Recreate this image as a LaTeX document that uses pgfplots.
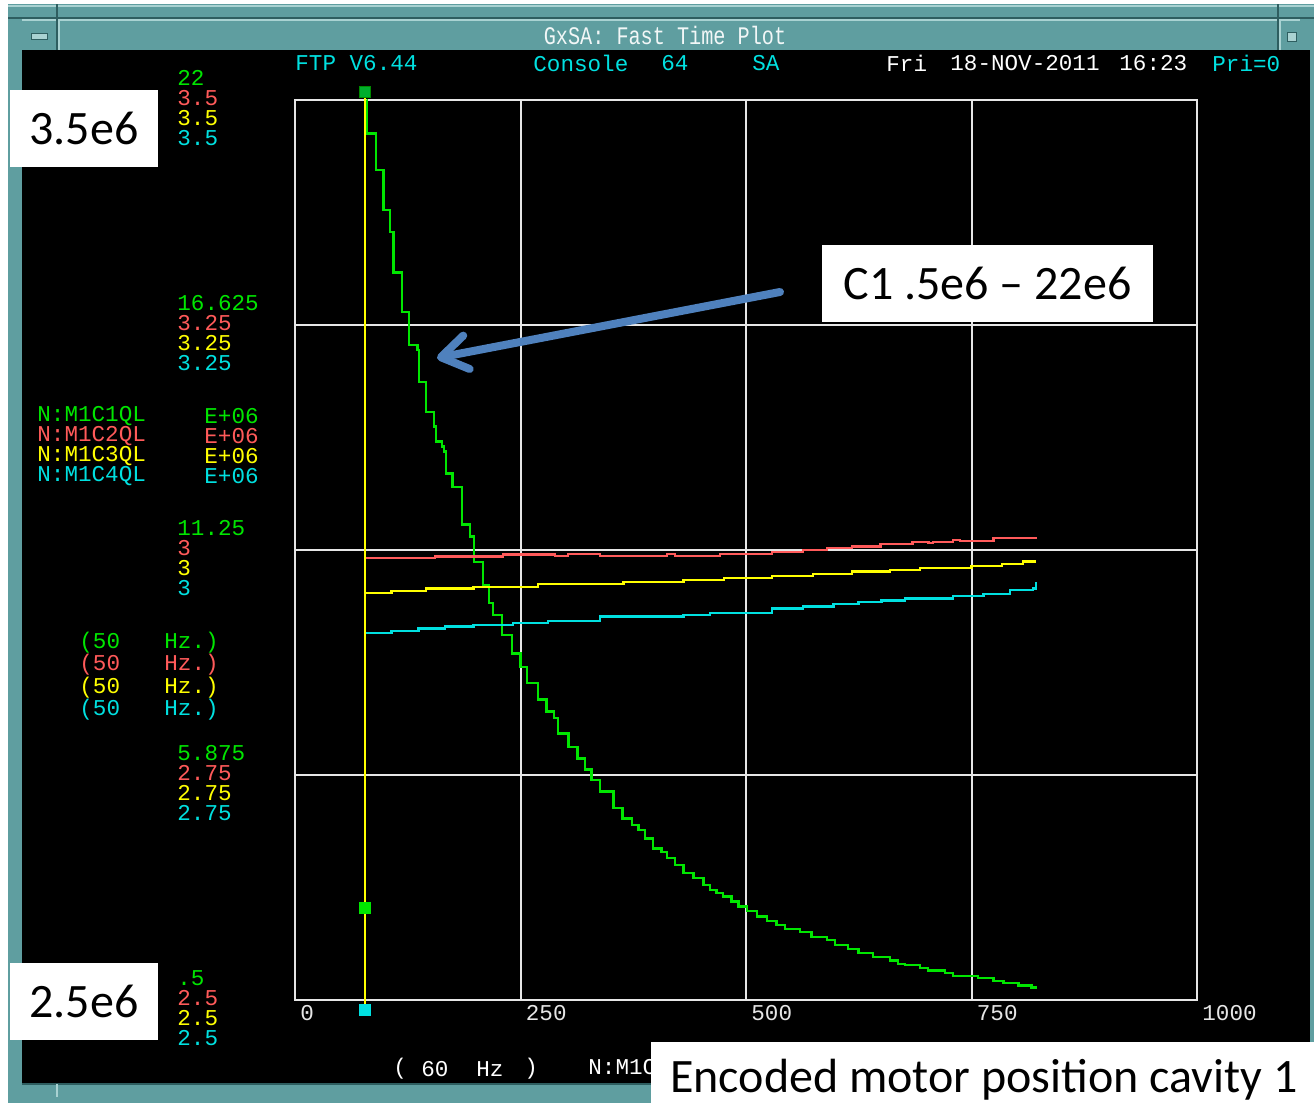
\documentclass[border=0pt]{standalone}
\usepackage{pgfplots}
\pgfplotsset{compat=1.18}
\usepackage{fontspec}
\setmainfont{Carlito}
\newfontfamily\mono{Liberation Mono}
\usetikzlibrary{arrows.meta}
\definecolor{frame}{HTML}{5F9EA0}
\definecolor{frameL}{HTML}{A9D2D2}
\definecolor{frameD}{HTML}{2E5E60}
\definecolor{cG}{HTML}{00E600}
\definecolor{cR}{HTML}{FF5A5A}
\definecolor{cY}{HTML}{FFFF00}
\definecolor{cC}{HTML}{00E0E0}
\definecolor{gridc}{HTML}{E6E6E6}
\definecolor{arrowc}{HTML}{4F81BD}
\newcommand\tfont{\mono\fontsize{11.3}{10}\selectfont}
\newcommand\bfont{\fontsize{24}{28}\selectfont}
\begin{document}
\begin{tikzpicture}[x=0.5pt,y=0.5pt]
\useasboundingbox (0,0) rectangle (1314,1103);
% window frame
\fill[white] (0,0) rectangle (1314,1103);
\fill[frame] (8,0) rectangle (1314,1099);
\draw[frameL, line width=1pt] (8,1097) -- (1314,1097);
\draw[frameD, line width=1pt] (8,1085) -- (1314,1085);
\draw[frameL, line width=1pt] (22,1083) -- (1300,1083);
\draw[frameD, line width=1pt] (57,1053) -- (57,1099);
\draw[frameD, line width=1pt] (1278,1053) -- (1278,1099);
\draw[frameL, line width=1pt] (59,1053) -- (59,1084);
\draw[frameL, line width=1pt] (1280,1053) -- (1280,1084);
\fill[frameL] (31,1064) rectangle (47,1070);
\draw[frameD] (31,1064) rectangle (47,1070);
\fill[frameL] (1287,1062) rectangle (1296,1071);
\draw[frameD] (1287,1062) rectangle (1296,1071);
\fill[black] (22,20) rectangle (1310,1053);
\draw[frameD, line width=1pt] (22,19) -- (1312,19);
\draw[frameL, line width=1pt] (57,6) -- (57,19);
\node[text=white!92!frame, font={\mono\fontsize{10.1}{12}\selectfont}] at (665,1068) {\scalebox{1}[1.25]{GxSA: Fast Time Plot}};
% header
\begin{scope}[every node/.style={anchor=west, inner sep=0pt, font=\tfont}]
\node[text=cC] at (295,1040) {FTP V6.44};
\node[text=cC] at (533,1040) {Console};
\node[text=cC] at (661,1040) {64};
\node[text=cC] at (752,1040) {SA};
\node[text=white] at (886,1040) {Fri};
\node[text=white] at (950,1040) {18-NOV-2011};
\node[text=white] at (1119,1040) {16:23};
\node[text=cC] at (1212,1040) {Pri=0};
% legend
\node[text=cG] at (37,687) {N:M1C1QL};
\node[text=cR] at (37,667) {N:M1C2QL};
\node[text=cY] at (37,647) {N:M1C3QL};
\node[text=cC] at (37,627) {N:M1C4QL};
\node[text=cG] at (204,687) {E+06};
\node[text=cR] at (204,667) {E+06};
\node[text=cY] at (204,647) {E+06};
\node[text=cC] at (204,627) {E+06};
\node[text=cG] at (79,460) {(50};
\node[text=cR] at (79,438) {(50};
\node[text=cY] at (79,415) {(50};
\node[text=cC] at (79,393) {(50};
\node[text=cG] at (164,460) {Hz.)};
\node[text=cR] at (164,438) {Hz.)};
\node[text=cY] at (164,415) {Hz.)};
\node[text=cC] at (164,393) {Hz.)};
\node[text=white] at (393,34) {(};
\node[text=white] at (421,34) {60};
\node[text=white] at (476,34) {Hz};
\node[text=white] at (524,34) {)};
\node[text=white] at (588,34) {N:M1C1QL};
\end{scope}
% green axis
\begin{axis}[at={(147.5pt,51.5pt)}, anchor=south west, scale only axis,
  width=451pt, height=450pt, xmin=0, xmax=1000, ymin=0.5, ymax=22,
  clip=false,
  axis line style={draw=gridc, line width=1pt},
  grid=major, major grid style={draw=gridc, line width=1pt},
  xtick={0,250,500,750,1000}, ytick={0.5,5.875,11.25,16.625,22},
  major tick length=0pt,
  /pgf/number format/assume math mode=true,
  /pgf/number format/1000 sep={},
  xticklabel style={anchor=west, inner sep=0pt, xshift=2.5pt, yshift=-6.5pt, font=\tfont, text=gridc},
  yticklabels={
    {\textcolor{cG}{.5}\\\textcolor{cR}{2.5}\\\textcolor{cY}{2.5}\\\textcolor{cC}{2.5}},
    {\textcolor{cG}{5.875}\\\textcolor{cR}{2.75}\\\textcolor{cY}{2.75}\\\textcolor{cC}{2.75}},
    {\textcolor{cG}{11.25}\\\textcolor{cR}{3}\\\textcolor{cY}{3}\\\textcolor{cC}{3}},
    {\textcolor{cG}{16.625}\\\textcolor{cR}{3.25}\\\textcolor{cY}{3.25}\\\textcolor{cC}{3.25}},
    {\textcolor{cG}{22}\\\textcolor{cR}{3.5}\\\textcolor{cY}{3.5}\\\textcolor{cC}{3.5}}},
  yticklabel style={anchor=north west, align=left, inner sep=0pt, font=\tfont, xshift=-59pt, yshift=15pt},
]
\addplot[cG, line width=1.2pt, const plot] coordinates {
(79.5,22.0) (79.8,21.20) (89.5,20.33) (97.9,19.37) (105.3,18.85) (109.0,17.88) (118.3,16.93) (126.7,16.15) (136.0,16.03) (137.8,15.27) (144.9,14.55) (154.1,14.20) (156.0,13.84) (163.3,13.72) (165.2,13.60) (167.1,13.08) (174.4,12.76) (185.1,11.86) (194.0,11.57) (198.4,10.97) (208.1,10.41) (215.4,9.99) (219.2,9.70) (229.2,9.22) (240.9,8.78) (250.2,8.46) (256.9,8.07) (269.7,7.68) (279.0,7.39) (287.1,7.23) (291.9,6.87) (303.0,6.55) (313.0,6.27) (321.5,6.01) (328.9,5.76) (338.1,5.48) (352.9,5.08) (363.3,4.84) (373.3,4.68) (380.6,4.56) (388.0,4.36) (397.2,4.12) (406.5,4.04) (412.1,3.89) (421.3,3.73) (430.5,3.54) (441.6,3.41) (452.7,3.25) (460.1,3.13) (467.5,3.05) (474.8,2.97) (484.1,2.85) (491.5,2.73) (500.8,2.63) (511.9,2.49) (523.0,2.39) (534.0,2.29) (543.2,2.20) (559.9,2.13) (572.8,2.01) (589.5,1.93) (598.7,1.81) (613.4,1.72) (624.5,1.62) (641.1,1.52) (659.6,1.44) (668.8,1.36) (676.3,1.33) (692.9,1.26) (702.1,1.20) (720.6,1.14) (729.8,1.08) (757.5,1.02) (774.2,0.96) (785.3,0.90) (801.9,0.85) (816.7,0.80) (822.3,0.80)};
\end{axis}
% red / yellow / cyan axis
\begin{axis}[at={(147.5pt,51.5pt)}, anchor=south west, scale only axis,
  width=451pt, height=450pt, xmin=0, xmax=1000, ymin=2.5, ymax=3.5,
  clip=false, hide axis]
\addplot[cR, line width=1.2pt, const plot] coordinates {
(78.7,2.991) (155.2,2.9926) (230.6,2.9952) (288.2,2.9933) (302.7,2.9956) (338.1,2.9933) (412.4,2.9956) (421.3,2.9933) (471.2,2.9956) (498.9,2.9956) (528.5,2.998) (563.2,3.000) (589.5,3.0019) (617.2,3.0037) (648.9,3.0067) (684.4,3.0092) (702.1,3.0080) (707.0,3.0086) (729.8,3.0111) (737.2,3.0100) (750.2,3.0103) (774.2,3.0130) (821.5,3.0148)};
\addplot[cY, line width=1.2pt, const plot] coordinates {
(78.7,2.952) (107.2,2.9544) (145.2,2.957) (197.7,2.9592) (269.7,2.9619) (303.0,2.9619) (364.0,2.9641) (388.0,2.9641) (430.5,2.9667) (475.6,2.9686) (528.5,2.9711) (574.6,2.9733) (589.5,2.9733) (617.2,2.9759) (659.6,2.9778) (692.9,2.9797) (750.2,2.9822) (783.5,2.9844) (807.4,2.9870) (821.5,2.9870)};
\addplot[cC, line width=1.2pt, const plot] coordinates {
(78.7,2.908) (107.2,2.9103) (136.7,2.9126) (166.3,2.9148) (197.7,2.9167) (241.4,2.9192) (280.8,2.9214) (338.1,2.9259) (375.1,2.9259) (430.5,2.9278) (460.1,2.9303) (528.5,2.9352) (563.5,2.9370) (583.9,2.9370) (596.8,2.9397) (624.5,2.9419) (650.4,2.9437) (676.3,2.9463) (729.8,2.9489) (763.1,2.9511) (792.7,2.9556) (818.5,2.9574) (821.5,2.9648)};
\addplot[cY, line width=1pt] coordinates {(77.6,2.489) (77.6,3.509)};
\addplot[only marks, mark=square*, mark size=2.6pt, mark options={fill=cC, draw=cC}] coordinates {(77.6,2.489)};
\end{axis}
\begin{axis}[at={(147.5pt,51.5pt)}, anchor=south west, scale only axis,
  width=451pt, height=450pt, xmin=0, xmax=1000, ymin=0.5, ymax=22,
  clip=false, hide axis]
\addplot[only marks, mark=square*, mark size=2.6pt, mark options={fill=cG!70!black!80!cC, draw=cG!60!black}] coordinates {(77.6,22.19)};
\addplot[only marks, mark=square*, mark size=2.6pt, mark options={fill=cG, draw=cG}] coordinates {(77.6,2.70)};
\end{axis}
% annotations
\draw[arrowc, line width=4pt, line cap=round, -{Straight Barb[length=13pt, width=17pt, round]}] (780,811) -- (437,745);
\fill[white] (10,936) rectangle (158,1013);
\node[font=\bfont] at (84,974.5) {3.5e6};
\fill[white] (10,63) rectangle (158,140);
\node[font=\bfont] at (84,101.5) {2.5e6};
\fill[white] (822,781) rectangle (1153,858);
\node[font=\bfont] at (987.5,819.5) {C1 .5e6 – 22e6};
\fill[white] (651,0) rectangle (1314,61);
\node[font=\bfont] at (984,23) {Encoded motor position cavity 1};
\end{tikzpicture}
\end{document}
